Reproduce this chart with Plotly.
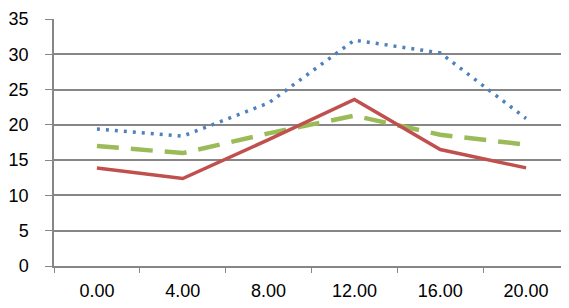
import plotly.graph_objects as go

categories = ["0.00", "4.00", "8.00", "12.00", "16.00", "20.00"]
blue_dotted = [19.4, 18.4, 23.1, 32.0, 30.2, 20.9]
green_dashed = [17.0, 16.0, 18.8, 21.3, 18.6, 17.2]
red_solid = [13.9, 12.4, 17.9, 23.6, 16.5, 13.9]
y_ticks = [0, 5, 10, 15, 20, 25, 30, 35]

fig = go.Figure()
fig.add_trace(go.Scatter(x=categories, y=blue_dotted, mode="lines",
                         line=dict(color="#4F81BD", width=3.5, dash="3px,6px")))
fig.add_trace(go.Scatter(x=categories, y=green_dashed, mode="lines",
                         line=dict(color="#9BBB59", width=4.5, dash="22px,12px")))
fig.add_trace(go.Scatter(x=categories, y=red_solid, mode="lines",
                         line=dict(color="#C0504D", width=3.5)))

axis_font = dict(family="Liberation Sans, Arial, sans-serif", size=18, color="#000000")
fig.update_layout(
    width=561, height=300,
    margin=dict(l=46, r=0, t=11, b=42),
    paper_bgcolor="white", plot_bgcolor="white",
    showlegend=False,
    xaxis=dict(type="category", range=[-0.5, 5.5], tickson="boundaries",
               ticks="outside", ticklen=5, tickcolor="#868686",
               showline=True, linecolor="#868686", linewidth=1.5,
               showgrid=False, tickfont=axis_font, ticklabelstandoff=8,
               automargin=False),
    yaxis=dict(range=[0, 35], tickvals=y_ticks, ticks="outside", ticklen=7,
               tickcolor="#868686", showline=True, linecolor="#868686", linewidth=1.5,
               showgrid=True, gridcolor="#868686", gridwidth=1.5,
               zeroline=False, tickfont=axis_font, ticklabelstandoff=13,
               automargin=False),
)
fig.write_html("out.html")
